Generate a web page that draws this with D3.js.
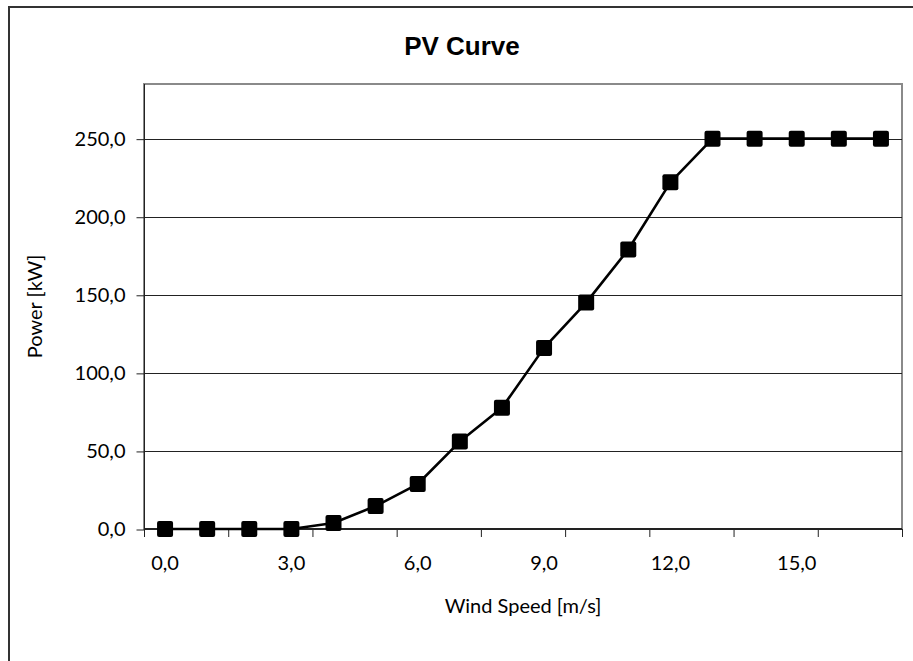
<!DOCTYPE html>
<html>
<head>
<meta charset="utf-8">
<script src="https://cdn.jsdelivr.net/npm/d3@7"></script>
<style>
  body { margin: 0; background: #fff; }
  svg { display: block; }
  .tick text { font-family: Lato, "Open Sans", sans-serif; font-size: 20px; fill: #000; }
</style>
</head>
<body>
<script>
// wind speed categories (m/s) and power (kW)
var windSpeed = [0, 1, 2, 3, 4, 5, 6, 7, 8, 9, 10, 11, 12, 13, 14, 15, 16, 17];
var power = [0, 0, 0, 0, 3.8, 14.7, 28.8, 56, 77.6, 116, 145, 179, 222, 250, 250, 250, 250, 250];
var yTicks = [0, 50, 100, 150, 200, 250];
var xLabelIdx = [0, 3, 6, 9, 12, 15];
var xTickBounds = [0, 2, 4, 6, 8, 10, 12, 14, 16, 18];

var W = 913, H = 661;
// plot area box (don't call it "top", that's window.top)
var pL = 144, pR = 902, pT = 84, pB = 529;

var comma = d3.formatLocale({decimal: ",", thousands: ".", grouping: [3], currency: ["", ""]});
var fmt = comma.format(".1f");

var svg = d3.select("body").append("svg").attr("width", W).attr("height", H);

// outer chart border (only top + left are inside the picture)
svg.append("rect").attr("x", 9).attr("y", 7).attr("width", 2000).attr("height", 2000)
  .attr("fill", "#fff").attr("stroke", "#333").attr("stroke-width", 2);

var x = d3.scaleBand().domain(windSpeed.map(function(d, i){ return i; })).range([pL, pR]).paddingInner(0).paddingOuter(0);
var xb = d3.scaleLinear().domain([0, windSpeed.length]).range([pL, pR]);
var y = d3.scaleLinear().domain([0, 285]).range([pB, pT]);

// plot area border
svg.append("rect").attr("x", pL).attr("y", pT).attr("width", pR - pL).attr("height", pB - pT)
  .attr("fill", "#fff").attr("stroke", "#8a8a8a").attr("stroke-width", 2);

// gridlines
svg.append("g").selectAll("line").data(yTicks.slice(1)).enter().append("line")
  .attr("x1", pL).attr("x2", pR)
  .attr("y1", function(d){ return Math.round(y(d)) + 0.5; })
  .attr("y2", function(d){ return Math.round(y(d)) + 0.5; })
  .attr("stroke", "#222").attr("stroke-width", 1);

// y axis
var yAxis = svg.append("g").attr("transform", "translate(" + (pL + 0.5) + ",0.5)")
  .call(d3.axisLeft(y).tickValues(yTicks).tickSize(8).tickPadding(11).tickFormat(fmt));
yAxis.select(".domain").remove();
yAxis.selectAll(".tick line").attr("stroke", "#222");
svg.append("line").attr("x1", pL + 0.5).attr("x2", pL + 0.5).attr("y1", pT).attr("y2", pB)
  .attr("stroke", "#222").attr("stroke-width", 1);

// x axis: tick marks every 2 categories, labels every 3
var xTickG = svg.append("g").attr("transform", "translate(0," + pB + ")")
  .call(d3.axisBottom(xb).tickValues(xTickBounds).tickSize(8).tickFormat(""));
xTickG.select(".domain").remove();
xTickG.selectAll(".tick line").attr("stroke", "#222");
svg.append("line").attr("x1", pL).attr("x2", pR).attr("y1", pB).attr("y2", pB)
  .attr("stroke", "#222").attr("stroke-width", 2);

var xLab = svg.append("g").attr("transform", "translate(0," + pB + ")")
  .call(d3.axisBottom(x).tickValues(xLabelIdx).tickSize(0).tickPadding(27)
    .tickFormat(function(i){ return fmt(windSpeed[i]); }));
xLab.select(".domain").remove();

// series
var cx = function(d, i){ return x(i) + x.bandwidth() / 2; };
svg.append("path").datum(power)
  .attr("d", d3.line().x(cx).y(function(d){ return y(d); }))
  .attr("fill", "none").attr("stroke", "#000").attr("stroke-width", 2.6).attr("stroke-linejoin", "round");

var ms = 16;
svg.append("g").selectAll("rect").data(power).enter().append("rect")
  .attr("x", function(d, i){ return cx(d, i) - ms / 2; })
  .attr("y", function(d){ return y(d) - ms / 2; })
  .attr("width", ms).attr("height", ms).attr("rx", 2)
  .attr("fill", "#000");

// titles
svg.append("text").attr("x", 462).attr("y", 55).attr("text-anchor", "middle")
  .style("font-family", "'Liberation Sans', Arial, sans-serif").style("font-weight", "bold").style("font-size", "26px")
  .text("PV Curve");
svg.append("text").attr("x", (pL + pR) / 2).attr("y", 613).attr("text-anchor", "middle")
  .style("font-family", "Lato, sans-serif").style("font-size", "20px")
  .text("Wind Speed [m/s]");
svg.append("text").attr("transform", "translate(42," + ((pT + pB) / 2) + ") rotate(-90)").attr("text-anchor", "middle")
  .style("font-family", "Lato, sans-serif").style("font-size", "20px")
  .text("Power [kW]");
</script>
</body>
</html>
